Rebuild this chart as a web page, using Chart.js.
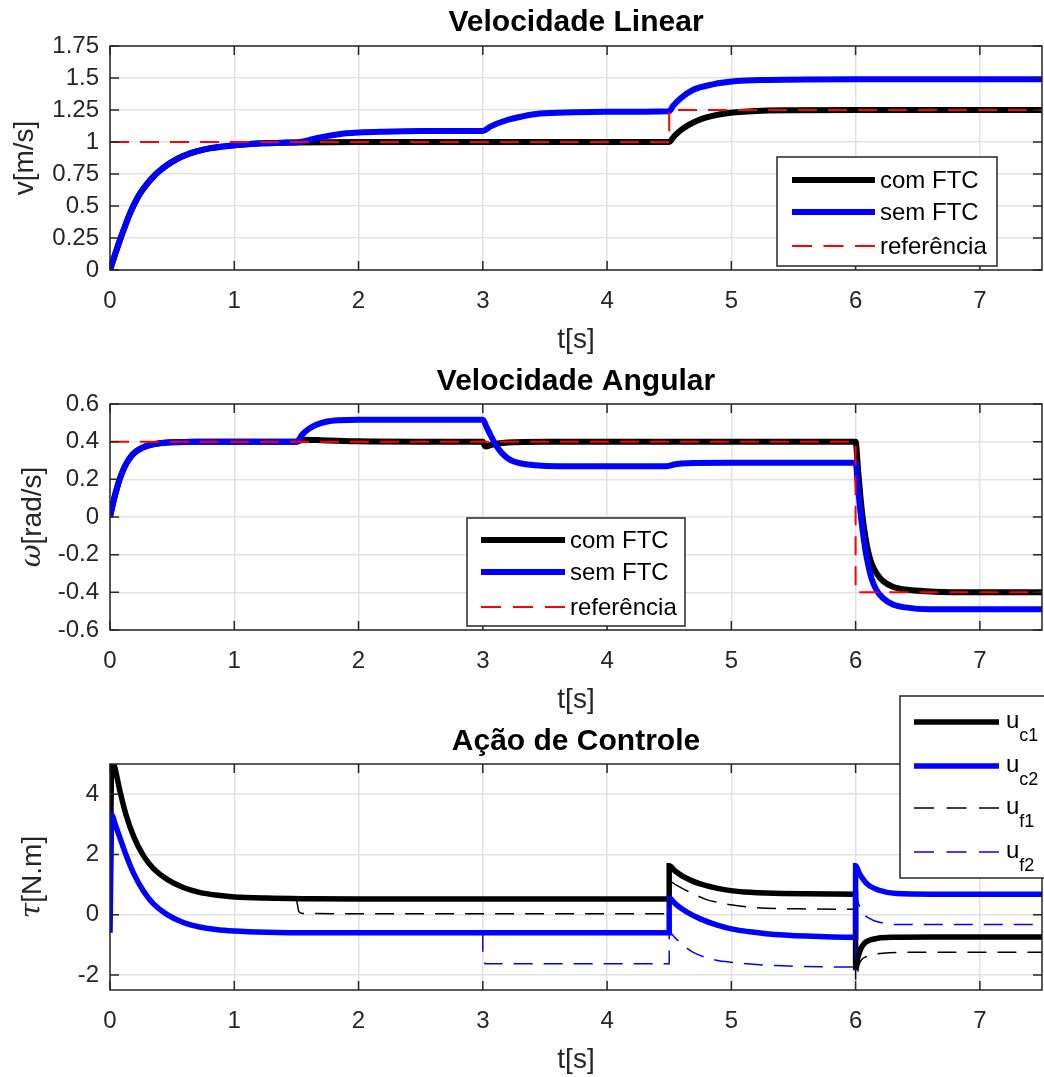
<!DOCTYPE html>
<html>
<head>
<meta charset="utf-8">
<script src="https://cdn.jsdelivr.net/npm/chart.js@4.4.0/dist/chart.umd.min.js"></script>
<style>
  html, body { margin:0; padding:0; background:#fff; }
  #fig { position:relative; width:1044px; height:1077px; overflow:hidden; background:#fff; }
  #fig canvas { position:absolute; left:0; }
</style>
</head>
<body>
<div id="fig">
  <canvas id="c1" width="1044" height="360" style="top:0px"></canvas>
  <canvas id="c2" width="1044" height="360" style="top:360px"></canvas>
  <canvas id="c3" width="1044" height="387" style="top:690px"></canvas>
</div>
<script>
// ---------------- data ----------------
const xTicks = [0, 1, 2, 3, 4, 5, 6, 7];
const xTickLabels = ['0', '1', '2', '3', '4', '5', '6', '7'];

// Velocidade Linear
const vTicks = [0, 0.25, 0.5, 0.75, 1, 1.25, 1.5, 1.75];
const vTickLabels = ['0', '0.25', '0.5', '0.75', '1', '1.25', '1.5', '1.75'];
const tVCom = [0, 0.04, 0.08, 0.12, 0.16, 0.2, 0.24, 0.3, 0.35, 0.4, 0.46, 0.52, 0.59, 0.65, 0.72, 0.8, 0.9, 1.0, 1.1, 1.25, 1.4, 1.5, 2.0, 3.0, 4.5, 4.54, 4.59, 4.65, 4.72, 4.8, 4.9, 5.01, 5.2, 5.5, 6.0, 7.5];
const vCom  = [0, 0.12, 0.235, 0.34, 0.44, 0.525, 0.595, 0.675, 0.73, 0.775, 0.82, 0.857, 0.89, 0.913, 0.933, 0.95, 0.964, 0.975, 0.983, 0.99, 0.995, 0.997, 1.0, 1.0, 1.0, 1.045, 1.09, 1.13, 1.165, 1.192, 1.215, 1.23, 1.243, 1.248, 1.25, 1.25];
const tVSem = [0, 0.04, 0.08, 0.12, 0.16, 0.2, 0.24, 0.3, 0.35, 0.4, 0.46, 0.52, 0.59, 0.65, 0.72, 0.8, 0.9, 1.0, 1.1, 1.25, 1.4, 1.5, 1.6, 1.66, 1.8, 1.9, 2.0, 2.2, 2.5, 3.0, 3.06, 3.19, 3.32, 3.46, 3.73, 4.0, 4.5, 4.53, 4.59, 4.69, 4.85, 5.04, 5.3, 5.6, 6.0, 7.5];
const vSem  = [0, 0.12, 0.235, 0.34, 0.44, 0.525, 0.595, 0.675, 0.73, 0.775, 0.82, 0.857, 0.89, 0.913, 0.933, 0.95, 0.964, 0.975, 0.983, 0.99, 0.995, 0.997, 1.015, 1.03, 1.055, 1.068, 1.075, 1.081, 1.085, 1.086, 1.12, 1.17, 1.20, 1.222, 1.232, 1.236, 1.24, 1.28, 1.34, 1.406, 1.45, 1.476, 1.485, 1.489, 1.49, 1.49];
const tVRef = [0, 4.5, 4.5, 7.5];
const vRef  = [1, 1, 1.25, 1.25];

// Velocidade Angular
const wTicks = [-0.6, -0.4, -0.2, 0, 0.2, 0.4, 0.6];
const wTickLabels = ['-0.6', '-0.4', '-0.2', '0', '0.2', '0.4', '0.6'];
const tWCom = [0, 0.02, 0.04, 0.06, 0.08, 0.1, 0.13, 0.17, 0.21, 0.26, 0.32, 0.4, 0.5, 0.7, 1.0, 1.5, 1.55, 1.7, 2.0, 2.5, 3.0, 3.02, 3.08, 3.2, 3.5, 6.0, 6.02, 6.04, 6.06, 6.08, 6.1, 6.13, 6.17, 6.22, 6.3, 6.4, 6.6, 7.0, 7.5];
const wCom  = [0, 0.06, 0.115, 0.163, 0.205, 0.24, 0.282, 0.322, 0.348, 0.368, 0.382, 0.392, 0.397, 0.4, 0.4, 0.4, 0.41, 0.408, 0.402, 0.4, 0.4, 0.375, 0.385, 0.395, 0.4, 0.4, 0.25, 0.1, -0.02, -0.11, -0.18, -0.25, -0.3, -0.34, -0.37, -0.385, -0.395, -0.4, -0.4];
const tWSem = [0, 0.02, 0.04, 0.06, 0.08, 0.1, 0.13, 0.17, 0.21, 0.26, 0.32, 0.4, 0.5, 0.7, 1.0, 1.5, 1.55, 1.6, 1.66, 1.74, 1.85, 2.0, 3.0, 3.03, 3.06, 3.09, 3.12, 3.16, 3.2, 3.25, 3.32, 3.42, 3.6, 4.48, 4.55, 4.64, 5.0, 6.0, 6.02, 6.04, 6.06, 6.08, 6.1, 6.13, 6.17, 6.22, 6.3, 6.4, 6.6, 7.5];
const wSem  = [0, 0.06, 0.115, 0.163, 0.205, 0.24, 0.282, 0.322, 0.348, 0.368, 0.382, 0.392, 0.397, 0.4, 0.4, 0.4, 0.44, 0.468, 0.49, 0.506, 0.514, 0.517, 0.517, 0.478, 0.438, 0.4, 0.368, 0.335, 0.312, 0.295, 0.283, 0.275, 0.27, 0.27, 0.28, 0.286, 0.288, 0.288, 0.15, 0.02, -0.09, -0.18, -0.25, -0.33, -0.39, -0.43, -0.465, -0.48, -0.49, -0.49];
const tWRef = [0, 6, 6, 7.5];
const wRef  = [0.4, 0.4, -0.4, -0.4];

// Acao de Controle
const uTicks = [-2, 0, 2, 4];
const uTickLabels = ['-2', '0', '2', '4'];
const tUc1 = [0, 0.015, 0.03, 0.08, 0.13, 0.19, 0.27, 0.35, 0.46, 0.59, 0.72, 0.85, 1.0, 1.26, 1.6, 2.0, 3.0, 4.5, 4.5, 4.55, 4.61, 4.68, 4.75, 4.88, 5.01, 5.15, 5.28, 5.6, 6.0, 6.0, 6.02, 6.04, 6.07, 6.11, 6.18, 6.3, 6.6, 7.5];
const uc1  = [0.6, 5.05, 5.0, 4.1, 3.3, 2.6, 1.95, 1.53, 1.17, 0.9, 0.74, 0.65, 0.59, 0.55, 0.53, 0.52, 0.52, 0.52, 1.62, 1.44, 1.27, 1.13, 1.02, 0.88, 0.79, 0.74, 0.715, 0.69, 0.68, -1.75, -1.4, -1.15, -0.95, -0.85, -0.78, -0.75, -0.74, -0.74];
const tUc2 = [0, 0.015, 0.04, 0.08, 0.13, 0.19, 0.27, 0.35, 0.46, 0.59, 0.72, 0.85, 1.0, 1.26, 1.6, 2.0, 3.0, 4.5, 4.5, 4.55, 4.61, 4.68, 4.75, 4.88, 5.01, 5.15, 5.28, 5.6, 6.0, 6.0, 6.03, 6.09, 6.19, 6.33, 6.6, 7.5];
const uc2  = [-0.6, 3.3, 3.02, 2.55, 1.97, 1.37, 0.78, 0.36, 0.0, -0.26, -0.41, -0.49, -0.54, -0.58, -0.6, -0.6, -0.6, -0.6, 0.55, 0.36, 0.17, 0.0, -0.14, -0.34, -0.48, -0.57, -0.63, -0.71, -0.75, 1.62, 1.37, 1.03, 0.81, 0.7, 0.68, 0.68];
const tUf1 = [1.5, 1.51, 1.52, 1.55, 2.0, 4.5, 4.5, 4.55, 4.64, 4.72, 4.8, 4.9, 5.01, 5.15, 5.28, 5.6, 6.0, 6.0, 6.03, 6.11, 6.22, 6.4, 7.5];
const uf1  = [0.53, 0.3, 0.1, 0.04, 0.03, 0.03, 1.12, 1.0, 0.8, 0.64, 0.5, 0.4, 0.32, 0.25, 0.215, 0.19, 0.18, -2.2, -1.63, -1.36, -1.28, -1.25, -1.25];
const tUf2 = [3.0, 3.0, 3.02, 4.5, 4.5, 4.56, 4.62, 4.69, 4.78, 4.88, 5.0, 5.15, 5.35, 5.55, 6.0, 6.0, 6.01, 6.03, 6.06, 6.1, 6.15, 6.25, 6.4, 7.5];
const uf2  = [-0.6, -1.45, -1.63, -1.63, -0.6, -0.82, -1.04, -1.24, -1.4, -1.51, -1.58, -1.64, -1.69, -1.715, -1.74, 1.2, 0.6, 0.3, 0.05, -0.1, -0.2, -0.3, -0.33, -0.33];

// ---------------- helpers ----------------
const FONT = '"Liberation Sans", Arial, Helvetica, sans-serif';
const AXIS_COLOR = '#262626';
Chart.defaults.font.family = FONT;

function pts(t, v){ return t.map((x, i) => ({x: x, y: v[i]})); }

function line(label, t, v, color, width, dash, order){
  return {
    label, data: pts(t, v), borderColor: color, borderWidth: width,
    borderDash: dash || [], pointRadius: 0, fill: false,
    cubicInterpolationMode: 'monotone', order
  };
}

// MATLAB-like box, inward ticks, axis labels and legend
const matlabAxes = {
  id: 'matlabAxes',
  afterDatasetsDraw(chart, args, opts){
    const {ctx, chartArea: a} = chart;
    const xs = chart.scales.x, ys = chart.scales.y;
    ctx.save();
    ctx.strokeStyle = AXIS_COLOR;
    ctx.lineWidth = 1.5;
    ctx.strokeRect(a.left, a.top, a.width, a.height);
    ctx.beginPath();
    xs.ticks.forEach(t => {
      const px = xs.getPixelForValue(t.value);
      ctx.moveTo(px, a.bottom); ctx.lineTo(px, a.bottom - 9);
      ctx.moveTo(px, a.top); ctx.lineTo(px, a.top + 9);
    });
    ys.ticks.forEach(t => {
      const py = ys.getPixelForValue(t.value);
      ctx.moveTo(a.left, py); ctx.lineTo(a.left + 9, py);
      ctx.moveTo(a.right, py); ctx.lineTo(a.right - 9, py);
    });
    ctx.stroke();

    // x label
    ctx.fillStyle = AXIS_COLOR;
    ctx.font = '28px ' + FONT;
    ctx.textAlign = 'center';
    ctx.textBaseline = 'middle';
    ctx.fillText('t[s]', (a.left + a.right) / 2, a.bottom + 70);

    // y label (rotated, mixed fonts)
    const parts = opts.yTitle;
    let total = 0;
    parts.forEach(p => { ctx.font = p.font; p.w = ctx.measureText(p.text).width; total += p.w; });
    ctx.translate(opts.yTitleX, (a.top + a.bottom) / 2);
    ctx.rotate(-Math.PI / 2);
    ctx.textAlign = 'left';
    let cx = -total / 2;
    parts.forEach(p => { ctx.font = p.font; ctx.fillText(p.text, cx, 0); cx += p.w; });
    ctx.restore();
  },
  afterDraw(chart, args, opts){
    const lg = opts.legend;
    if(!lg) return;
    const ctx = chart.ctx;
    ctx.save();
    ctx.fillStyle = '#fff';
    ctx.fillRect(lg.x, lg.y, lg.w, lg.h);
    ctx.strokeStyle = AXIS_COLOR;
    ctx.lineWidth = 1.5;
    ctx.strokeRect(lg.x, lg.y, lg.w, lg.h);
    lg.rows.forEach(r => {
      ctx.beginPath();
      ctx.strokeStyle = r.color;
      ctx.lineWidth = r.width;
      ctx.setLineDash(r.dash || []);
      ctx.moveTo(lg.x1, r.y); ctx.lineTo(lg.x2, r.y);
      ctx.stroke();
      ctx.setLineDash([]);
      ctx.fillStyle = '#000';
      ctx.textAlign = 'left';
      if(r.sub){
        ctx.textBaseline = 'alphabetic';
        ctx.font = '24px ' + FONT;
        ctx.fillText(r.text, lg.tx, r.y + 6);
        const w = ctx.measureText(r.text).width;
        ctx.font = '18px ' + FONT;
        ctx.fillText(r.sub, lg.tx + w, r.y + 19);
      } else {
        ctx.textBaseline = 'middle';
        ctx.font = '24px ' + FONT;
        ctx.fillText(r.text, lg.tx, r.y + 1);
      }
    });
    ctx.restore();
  }
};

function makeChart(id, cfg){
  const ctx = document.getElementById(id).getContext('2d');
  return new Chart(ctx, {
    type: 'line',
    data: { datasets: cfg.datasets },
    options: {
      responsive: false,
      animation: false,
      devicePixelRatio: 1,
      layout: { padding: { top: cfg.padTop, right: 2, left: 0, bottom: 0 } },
      plugins: {
        legend: { display: false },
        tooltip: { enabled: false },
        title: {
          display: true, text: cfg.title, fullSize: false, color: '#000',
          font: { size: 30, weight: 'bold', lineHeight: 1 },
          padding: { top: cfg.titlePad[0], bottom: cfg.titlePad[1] }
        },
        matlabAxes: { yTitle: cfg.yTitle, yTitleX: cfg.yTitleX, legend: cfg.legend }
      },
      scales: {
        x: {
          type: 'linear', min: 0, max: 7.5,
          afterFit: s => { s.height = cfg.xAxisH; },
          afterBuildTicks: s => { s.ticks = xTicks.map(v => ({value: v})); },
          grid: { color: '#e1e1e1', lineWidth: 1.5, drawTicks: false },
          border: { display: false },
          ticks: {
            autoSkip: false, maxRotation: 0, padding: 17, color: AXIS_COLOR,
            font: { size: 24 },
            callback: (v, i) => xTickLabels[i]
          }
        },
        y: {
          type: 'linear', min: cfg.yMin, max: cfg.yMax,
          afterFit: s => { s.width = 110; },
          afterBuildTicks: s => { s.ticks = cfg.yTicks.map(v => ({value: v})); },
          grid: { color: '#e1e1e1', lineWidth: 1.5, drawTicks: false },
          border: { display: false },
          ticks: {
            autoSkip: false, padding: 11, color: AXIS_COLOR,
            font: { size: 24 },
            callback: (v, i) => cfg.yTickLabels[i]
          }
        }
      }
    },
    plugins: [matlabAxes]
  });
}

const serif = 'italic 28px "DejaVu Serif", serif';
const sans = '28px ' + FONT;
const refDash = [19, 11];
const uDash = [19, 11];

makeChart('c1', {
  title: 'Velocidade Linear', padTop: 0, titlePad: [7.5, 8.5],
  xAxisH: 90, yMin: 0, yMax: 1.75, yTicks: vTicks, yTickLabels: vTickLabels,
  yTitle: [{text: 'v[m/s]', font: sans}], yTitleX: 25,
  datasets: [
    line('com FTC', tVCom, vCom, '#000000', 6, null, 2),
    line('sem FTC', tVSem, vSem, '#0000ff', 6, null, 1),
    line('referência', tVRef, vRef, '#ff0000', 2, refDash, 0)
  ],
  legend: { x: 777, y: 157, w: 220, h: 109, x1: 792, x2: 875, tx: 880, rows: [
    {text: 'com FTC', color: '#000', width: 6, y: 180},
    {text: 'sem FTC', color: '#00f', width: 6, y: 212},
    {text: 'referência', color: '#f00', width: 2, dash: [20, 11.5], y: 246}
  ]}
});

makeChart('c2', {
  title: 'Velocidade Angular', padTop: 0, titlePad: [7, 7],
  xAxisH: 90, yMin: -0.6, yMax: 0.6, yTicks: wTicks, yTickLabels: wTickLabels,
  yTitle: [{text: 'ω', font: serif}, {text: '[rad/s]', font: sans}], yTitleX: 33,
  datasets: [
    line('com FTC', tWCom, wCom, '#000000', 6, null, 2),
    line('sem FTC', tWSem, wSem, '#0000ff', 6, null, 1),
    line('referência', tWRef, wRef, '#ff0000', 2, refDash, 0)
  ],
  legend: { x: 467, y: 158, w: 218, h: 108, x1: 481, x2: 565, tx: 570, rows: [
    {text: 'com FTC', color: '#000', width: 6, y: 180},
    {text: 'sem FTC', color: '#00f', width: 6, y: 212},
    {text: 'referência', color: '#f00', width: 2, dash: [20, 12], y: 247}
  ]}
});

makeChart('c3', {
  title: 'Ação de Controle', padTop: 30, titlePad: [7, 7],
  xAxisH: 87, yMin: -2.5, yMax: 5, yTicks: uTicks, yTickLabels: uTickLabels,
  yTitle: [{text: 'τ', font: serif}, {text: '[N.m]', font: sans}], yTitleX: 33,
  datasets: [
    line('uc1', tUc1, uc1, '#000000', 5.5, null, 3),
    line('uc2', tUc2, uc2, '#0000ff', 5.5, null, 2),
    line('uf1', tUf1, uf1, '#000000', 1.5, uDash, 1),
    line('uf2', tUf2, uf2, '#0000ff', 1.5, uDash, 0)
  ],
  legend: { x: 900, y: 6, w: 160, h: 182, x1: 914, x2: 999, tx: 1006, rows: [
    {text: 'u', sub: 'c1', color: '#000', width: 5.5, y: 32},
    {text: 'u', sub: 'c2', color: '#00f', width: 5.5, y: 76},
    {text: 'u', sub: 'f1', color: '#000', width: 1.5, dash: [20, 12.5], y: 118},
    {text: 'u', sub: 'f2', color: '#00f', width: 1.5, dash: [20, 12.5], y: 162}
  ]}
});
</script>
</body>
</html>
